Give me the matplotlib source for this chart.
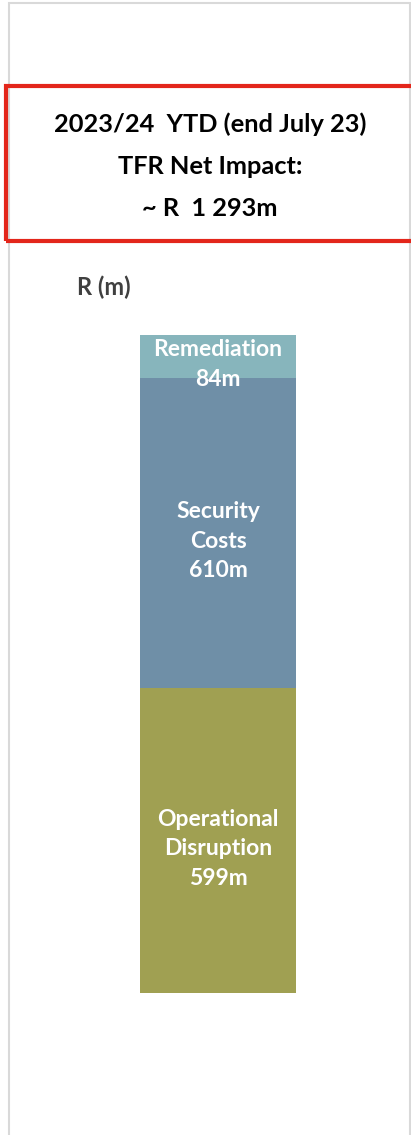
import numpy as np
import matplotlib.pyplot as plt
from matplotlib.patches import Rectangle

plt.rcParams['font.family'] = ['Lato', 'DejaVu Sans']

# Componentes do impacto líquido (R milhões)
categorias = ['Operational\nDisruption', 'Security\nCosts', 'Remediation']
valores = [599, 610, 84]
cores = ['#A0A052', '#6F8FA7', '#87B5BC']

W, H = 411, 1135
fig = plt.figure(figsize=(W / 100, H / 100), dpi=100)


def fx(px):
    return px / W


def fy(py):
    # py medido a partir do topo
    return 1 - py / H


# moldura cinzenta do slide
fig.patches.append(Rectangle((fx(9), fy(1140)), fx(401), (1137) / H, transform=fig.transFigure,
                             fill=False, edgecolor='#D9D9D9', linewidth=1.5))

# caixa vermelha com o título
fig.patches.append(Rectangle((fx(6), fy(241)), fx(410), 155 / H, transform=fig.transFigure,
                             fill=False, edgecolor='#E3261B', linewidth=3))
titulo = ['2023/24  YTD (end July 23)', 'TFR Net Impact:', '~ R  1 293m']
for i, linha in enumerate(titulo):
    fig.text(fx(210), fy(124 + 42 * i), linha, ha='center', va='center',
             fontsize=18.3, fontweight='bold', color='black')

fig.text(fx(77), fy(287), 'R (m)', ha='left', va='center', fontsize=17,
         fontweight='bold', color='#404040')

# barra empilhada
ax = fig.add_axes([fx(140), 142 / H, 156 / W, 658 / H])
base = 0
for cat, v, c in zip(categorias, valores, cores):
    ax.bar(0, v, bottom=base, width=1, color=c)
    # rótulo no centro do segmento, um pouco abaixo
    ax.annotate(f'{cat}\n{v}m', (0, base + v / 2), xytext=(0, -6), textcoords='offset points',
                ha='center', va='center', color='white',
                fontsize=16.5, fontweight='bold', linespacing=1.5)
    base += v
ax.set_xlim(-0.5, 0.5)
ax.set_ylim(0, sum(valores))
ax.axis('off')

fig.savefig('out.png', dpi=100)
